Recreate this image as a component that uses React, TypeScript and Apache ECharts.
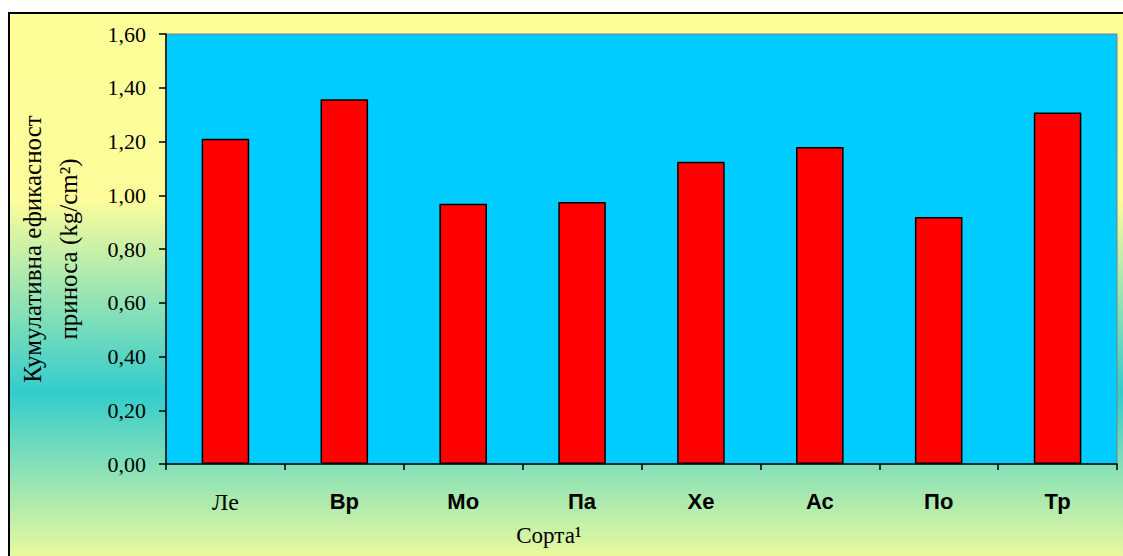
import React, { useEffect, useRef } from "react";
import * as echarts from "echarts";

const categories = ["Ле", "Вр", "Мо", "Па", "Хе", "Ас", "По", "Тр"];
const values = [1.21, 1.357, 0.968, 0.975, 1.125, 1.18, 0.919, 1.308];
const yTicks = { min: 0, max: 1.6, interval: 0.2 };
const xAxisTitle = "Сорта¹";
const yAxisTitleLines = ["Кумулативна ефикасност", "приноса (kg/cm²)"];

const SERIF = "'Liberation Serif', 'Times New Roman', serif";
const SANS = "'Liberation Sans', Arial, sans-serif";

export default function App() {
  const ref = useRef<HTMLDivElement>(null);
  useEffect(() => {
    if (!ref.current) return;
    const chart = echarts.init(ref.current, null, { renderer: "svg" });
    const titleStyle = {
      fontFamily: SERIF,
      fontSize: 25,
      fill: "#000",
      align: "center",
      verticalAlign: "middle",
    };
    const option: any = {
      animation: false,
      graphic: [
        {
          type: "rect",
          z: -10,
          silent: true,
          shape: { x: 9, y: 13, width: 1200, height: 600 },
          style: {
            fill: new echarts.graphic.LinearGradient(0, 0, 0, 1, [
              { offset: 0, color: "#ffff99" },
              { offset: 0.31, color: "#fdfd9b" },
              { offset: 0.632, color: "#33cccc" },
              { offset: 0.905, color: "#e9f99e" },
              { offset: 1, color: "#ffff99" },
            ]),
            stroke: "#000",
            lineWidth: 2,
          },
        },
        {
          type: "text",
          x: 549,
          y: 535,
          style: { ...titleStyle, fontSize: 23, text: xAxisTitle },
        },
        {
          type: "text",
          x: 32,
          y: 249,
          rotation: Math.PI / 2,
          style: { ...titleStyle, text: yAxisTitleLines[0] },
        },
        {
          type: "text",
          x: 68,
          y: 249,
          rotation: Math.PI / 2,
          style: { ...titleStyle, text: yAxisTitleLines[1] },
        },
      ],
      grid: {
        left: 166,
        right: 6,
        top: 34,
        bottom: 92,
        show: true,
        backgroundColor: "#00ccff",
        borderColor: "#808080",
        borderWidth: 1,
        containLabel: false,
      },
      xAxis: {
        type: "category",
        data: categories,
        boundaryGap: true,
        axisLine: { show: true, lineStyle: { color: "#000", width: 1.5 } },
        axisTick: {
          show: true,
          alignWithLabel: false,
          interval: 0,
          length: 6,
          lineStyle: { color: "#000", width: 1.5 },
        },
        axisLabel: {
          interval: 0,
          margin: 26,
          formatter: (v: string, i: number) => (i === 0 ? `{s|${v}}` : `{b|${v}}`),
          rich: {
            s: { fontFamily: SERIF, fontSize: 24, color: "#000" },
            b: { fontFamily: SANS, fontSize: 22, fontWeight: "bold", color: "#000" },
          },
        },
        splitLine: { show: false },
      },
      yAxis: {
        type: "value",
        min: yTicks.min,
        max: yTicks.max,
        interval: yTicks.interval,
        axisLine: { show: true, lineStyle: { color: "#000", width: 1.5 } },
        axisTick: { show: true, length: 7, lineStyle: { color: "#000", width: 1.5 } },
        axisLabel: {
          margin: 20,
          fontFamily: SERIF,
          fontSize: 22,
          color: "#000",
          formatter: (v: number) => v.toFixed(2).replace(".", ","),
        },
        splitLine: { show: false },
      },
      series: [
        {
          type: "bar",
          data: values,
          barCategoryGap: "60%",
          itemStyle: { color: "#ff0000", borderColor: "#000", borderWidth: 1.5 },
        },
      ],
    };
    chart.setOption(option);
    return () => chart.dispose();
  }, []);
  return (
    <div
      ref={ref}
      style={{ position: "fixed", left: 0, top: 0, width: 1123, height: 556, background: "#fff" }}
    />
  );
}
